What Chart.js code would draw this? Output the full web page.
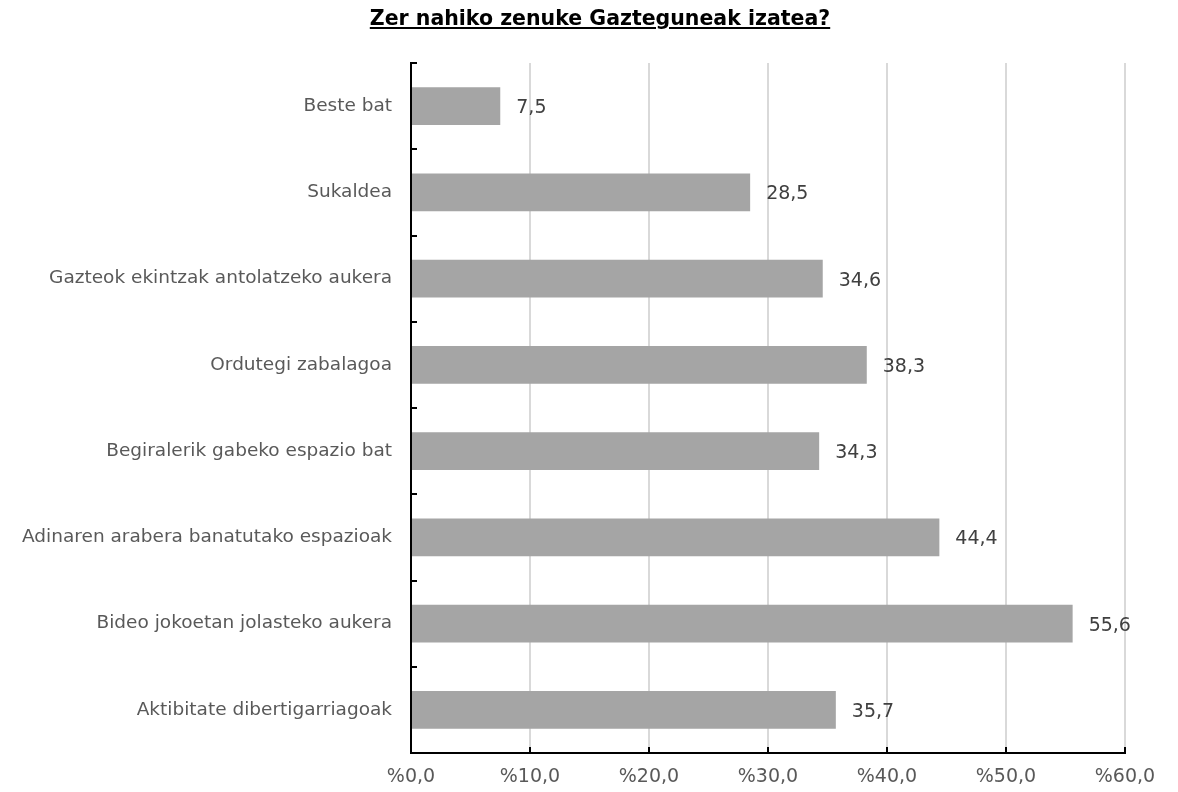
<!DOCTYPE html>
<html>
<head>
<meta charset="utf-8">
<script src="https://cdn.jsdelivr.net/npm/chart.js@4.4.1/dist/chart.umd.min.js"></script>
<style>
  html, body { margin: 0; padding: 0; background: #fff; }
  #wrap { position: relative; width: 1178px; height: 792px; }
  #title {
    position: absolute; top: 6px; left: 0; width: 1200px; text-align: center;
    font-family: "DejaVu Sans", Verdana, sans-serif; font-weight: bold; font-size: 20.5px;
    text-decoration: underline; color: #000;
  }
</style>
</head>
<body>
<div id="wrap">
  <div id="title">Zer nahiko zenuke Gazteguneak izatea?</div>
  <canvas id="chart" width="1178" height="792"></canvas>
</div>
<script>
const categories = [
  "Beste bat",
  "Sukaldea",
  "Gazteok ekintzak antolatzeko aukera",
  "Ordutegi zabalagoa",
  "Begiralerik gabeko espazio bat",
  "Adinaren arabera banatutako espazioak",
  "Bideo jokoetan jolasteko aukera",
  "Aktibitate dibertigarriagoak"
];
const values = [7.5, 28.5, 34.6, 38.3, 34.3, 44.4, 55.6, 35.7];
const xTicks = [0, 10, 20, 30, 40, 50, 60];

const fontFamily = '"DejaVu Sans", Verdana, sans-serif';
const fmt = (v, d) => v.toFixed(d).replace(".", ",");

// small inward ticks on both axes
const axisTicks = {
  id: "axisTicks",
  afterDraw(chart) {
    const { ctx, chartArea, scales } = chart;
    ctx.save();
    ctx.strokeStyle = "#000";
    ctx.lineWidth = 2;
    xTicks.forEach(t => {
      const x = Math.round(scales.x.getPixelForValue(t));
      ctx.beginPath();
      ctx.moveTo(x, chartArea.bottom);
      ctx.lineTo(x, chartArea.bottom - 6);
      ctx.stroke();
    });
    for (let i = 0; i <= categories.length; i++) {
      const y = Math.round(scales.y.getPixelForValue(i - 0.5));
      ctx.beginPath();
      ctx.moveTo(chartArea.left, y);
      ctx.lineTo(chartArea.left + 6, y);
      ctx.stroke();
    }
    ctx.restore();
  }
};

// value labels at the bar ends
const valueLabels = {
  id: "valueLabels",
  afterDatasetsDraw(chart) {
    const { ctx } = chart;
    const meta = chart.getDatasetMeta(0);
    ctx.save();
    ctx.font = "19px " + fontFamily;
    ctx.fillStyle = "#404040";
    ctx.textBaseline = "middle";
    ctx.textAlign = "left";
    meta.data.forEach((bar, i) => {
      ctx.fillText(fmt(values[i], 1), bar.x + 16, bar.y + 2);
    });
    ctx.restore();
  }
};

new Chart(document.getElementById("chart"), {
  type: "bar",
  data: {
    labels: categories,
    datasets: [{
      data: values,
      backgroundColor: "#a5a5a5",
      borderWidth: 0,
      categoryPercentage: 1,
      barPercentage: 0.44
    }]
  },
  options: {
    indexAxis: "y",
    responsive: false,
    animation: false,
    layout: { padding: { top: 63, right: 53, left: 0, bottom: 0 } },
    plugins: {
      legend: { display: false },
      tooltip: { enabled: false },
      title: { display: false }
    },
    scales: {
      x: {
        min: 0,
        max: 60,
        afterFit: s => { s.height = 39; },
        afterBuildTicks: s => { s.ticks = xTicks.map(v => ({ value: v })); },
        grid: { color: "#d9d9d9", lineWidth: 2, drawTicks: false },
        border: { display: true, color: "#000", width: 2 },
        ticks: {
          padding: 13,
          color: "#595959",
          font: { family: fontFamily, size: 19 },
          callback: v => "%" + fmt(v, 1)
        }
      },
      y: {
        afterFit: s => { s.width = 411; },
        grid: { display: false, drawTicks: false },
        border: { display: true, color: "#000", width: 2 },
        ticks: {
          padding: 19,
          color: "#595959",
          font: { family: fontFamily, size: 18.5 }
        }
      }
    }
  },
  plugins: [axisTicks, valueLabels]
});
</script>
</body>
</html>
